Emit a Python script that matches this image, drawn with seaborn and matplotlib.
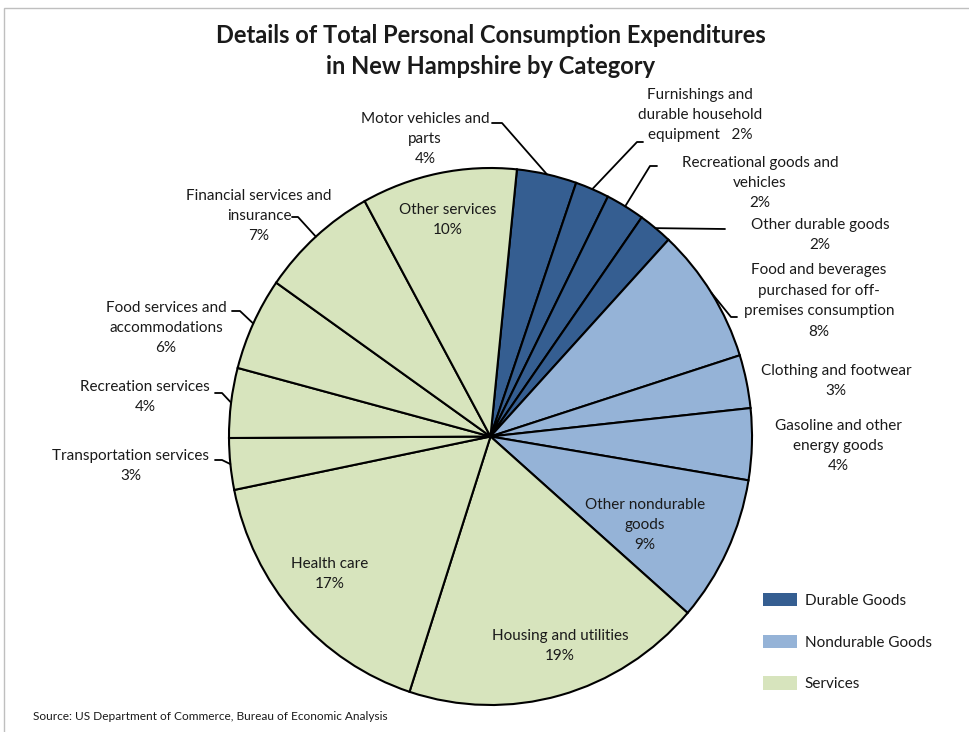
import numpy as np
import seaborn as sns
import matplotlib.pyplot as plt
from matplotlib.lines import Line2D
from matplotlib.patches import Patch, Rectangle

sns.set_theme(style="white")
plt.rcParams["font.family"] = ["Lato", "DejaVu Sans"]
plt.rcParams["text.color"] = "#1a1a1a"

# Data (clockwise from the top)
categories = [
    "Motor vehicles and\nparts",
    "Furnishings and\ndurable household\nequipment",
    "Recreational goods and\nvehicles",
    "Other durable goods",
    "Food and beverages\npurchased for off-\npremises consumption",
    "Clothing and footwear",
    "Gasoline and other\nenergy goods",
    "Other nondurable\ngoods",
    "Housing and utilities",
    "Health care",
    "Transportation services",
    "Recreation services",
    "Food services and\naccommodations",
    "Financial services and\ninsurance",
    "Other services",
]
shares = [3.7, 2.1, 2.4, 2.1, 8.2, 3.2, 4.3, 8.8, 18.6, 16.8, 3.1, 4.2, 5.6, 7.3, 9.6]
groups = ["Durable Goods"] * 4 + ["Nondurable Goods"] * 4 + ["Services"] * 7
group_names = ["Durable Goods", "Nondurable Goods", "Services"]

palette = dict(zip(group_names, ["#355E91", "#95B3D7", "#D7E4BD"]))

W, H = 969, 732
# pie bounding box in image pixels (left, top, right, bottom)
PIE = (229, 168, 752, 705)

# label layout: (center x, center y) in image pixels, leader polyline start points
label_pos = {
    0: (425, 139), 1: (700, 115), 2: (760, 183), 3: (820, 235), 4: (819, 301),
    5: (836, 381), 6: (838, 446), 7: (645, 525), 8: (560, 646), 9: (330, 574),
    10: (131, 466), 11: (145, 397), 12: (166, 328), 13: (259, 216), 14: (448, 220),
}
leaders = {
    0: [(492, 123), (502, 123)],
    1: [(643, 142), (637, 142)],
    2: [(657, 166), (650, 166)],
    3: [(725, 229)],
    4: [(737, 317), (731, 317)],
    10: [(215, 460), (222, 460)],
    11: [(215, 393), (222, 393)],
    12: [(232, 311), (240, 311)],
    13: [(292, 217), (298, 217)],
}


def fx(x):
    return x / W


def fy(y):
    return 1 - y / H


fig = plt.figure(figsize=(W / 100, H / 100), dpi=100)
ax = fig.add_axes([fx(PIE[0]), fy(PIE[3]), (PIE[2] - PIE[0]) / W, (PIE[3] - PIE[1]) / H])

wedges, _ = ax.pie(
    shares,
    colors=[palette[g] for g in groups],
    startangle=84.2,
    counterclock=False,
    wedgeprops=dict(edgecolor="black", linewidth=1.5),
)
ax.set_aspect("auto")
ax.set_xlim(-1, 1)
ax.set_ylim(-1, 1)
ax.axis("off")
for w in wedges:
    w.set_clip_on(False)

cx, cy = (PIE[0] + PIE[2]) / 2, (PIE[1] + PIE[3]) / 2
rx, ry = (PIE[2] - PIE[0]) / 2, (PIE[3] - PIE[1]) / 2
total = sum(shares)

for i, (name, v) in enumerate(zip(categories, shares)):
    pct = f"{round(v / total * 100)}%"
    if i == 1:
        txt = name + "   " + pct
    else:
        txt = name + "\n" + pct
    x, y = label_pos[i]
    fig.text(fx(x), fy(y), txt, ha="center", va="center", multialignment="center",
             fontsize=11, linespacing=1.58)
    if i in leaders:
        w = wedges[i]
        mid = np.deg2rad((w.theta1 + w.theta2) / 2)
        tx, ty = cx + rx * np.cos(mid), cy - ry * np.sin(mid)
        pts = leaders[i] + [(tx, ty)]
        fig.add_artist(Line2D([fx(p[0]) for p in pts], [fy(p[1]) for p in pts],
                              color="black", linewidth=1.3, transform=fig.transFigure))

fig.text(fx(491), fy(51),
         "Details of Total Personal Consumption Expenditures\nin New Hampshire by Category",
         ha="center", va="center", fontsize=17, fontweight="bold", linespacing=1.45)

fig.text(fx(33), fy(716), "Source: US Department of Commerce, Bureau of Economic Analysis",
         ha="left", va="center", fontsize=8.6)

handles = [Patch(facecolor=palette[g], edgecolor="none") for g in group_names]
fig.legend(handles, group_names, loc="upper left", bbox_to_anchor=(fx(749), fy(579)),
           frameon=False, fontsize=11, handlelength=2.25, handleheight=1.0,
           handletextpad=0.5, labelspacing=1.75)

fig.add_artist(Rectangle((fx(4), -0.1), 1.2, fy(8) + 0.1, fill=False,
                         edgecolor="#bfbfbf", linewidth=1, transform=fig.transFigure))

fig.savefig("out.png", dpi=100)
